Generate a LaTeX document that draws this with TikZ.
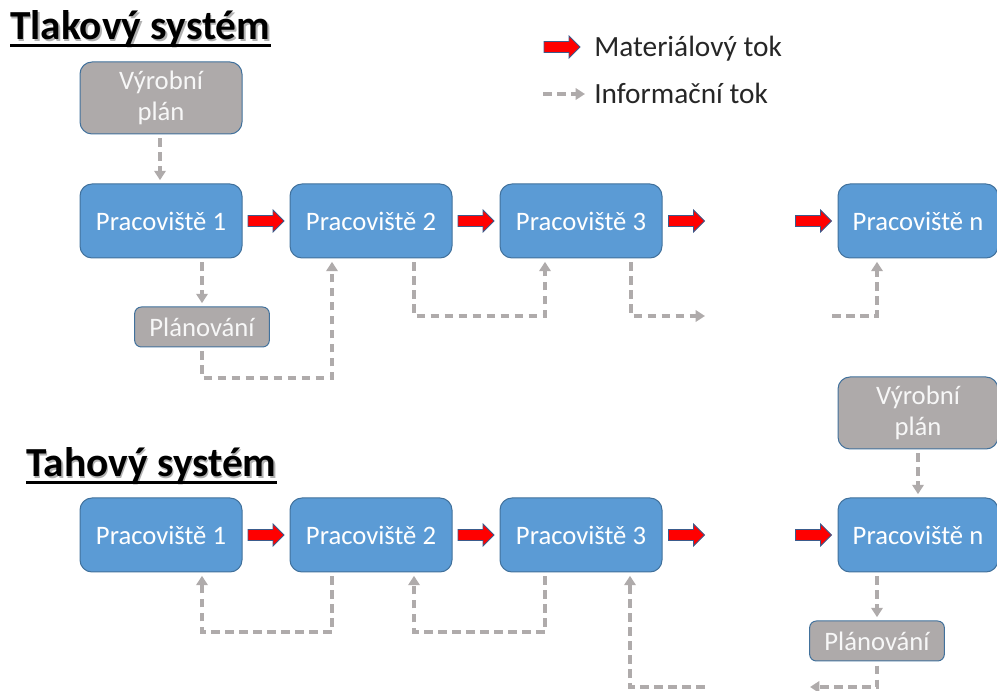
\documentclass[tikz,border=0pt]{standalone}
\usepackage{fontspec}
\setmainfont{Carlito}
\usetikzlibrary{arrows.meta,calc}
\definecolor{boxblue}{HTML}{5B9BD5}
\definecolor{boxedge}{HTML}{41719C}
\definecolor{boxgray}{HTML}{AEAAAA}
\definecolor{infogray}{HTML}{AFABAB}
\definecolor{arredge}{HTML}{3B5B8C}
\begin{document}
\begin{tikzpicture}[x=0.75pt,y=-0.75pt,
 station/.style={draw=boxedge, line width=0.75pt, fill=boxblue, rounded corners=9pt,
   minimum width=121.5pt, minimum height=55.5pt, text=white,
   font=\fontsize{20}{24}\selectfont, inner sep=0pt},
 plan/.style={draw=boxedge, line width=0.75pt, fill=boxgray, rounded corners=9pt,
   minimum width=121.5pt, minimum height=54pt, text=white!94!gray,
   font=\fontsize{20}{23.5}\selectfont, align=center, inner sep=0pt},
 planning/.style={plan, minimum width=101pt, minimum height=30pt, rounded corners=5pt},
 title/.style={font=\fontsize{31}{36}\selectfont\bfseries, anchor=base west, inner sep=0pt},
 legend/.style={font=\fontsize{22}{26}\selectfont, anchor=base west, inner sep=0pt, text=black!85},
 info/.style={draw=infogray, line width=2.8pt, dash pattern=on 6.5pt off 4pt,
   -{Triangle[width=8.5pt,length=7pt]}},
 frombox/.style={shorten <=3pt},
 tobox/.style={shorten >=2.5pt},
 matarrow/.pic={\draw[arredge, line width=0.6pt, fill=red, line join=miter]
   (-18,-5.5) -- (7,-5.5) -- (7,-11) -- (18,0) -- (7,11) -- (7,5.5) -- (-18,5.5) -- cycle;}
]
\useasboundingbox (0,0) rectangle (997,691);

% titles
\node[title, text=black!30] at (11.5,41.5) {Tlakový systém};
\node[title] (t1) at (10,40) {Tlakový systém};
\draw[line width=2.25pt] ([yshift=-4pt]t1.base west) -- ([yshift=-4pt]t1.base east);
\node[title, text=black!30] at (27.5,478.5) {Tahový systém};
\node[title] (t2) at (26,477) {Tahový systém};
\draw[line width=2.25pt] ([yshift=-4pt]t2.base west) -- ([yshift=-4pt]t2.base east);

% legend
\pic at (562,47) {matarrow};
\node[legend] (lm) at (594,57) {Materiálový tok};
\coordinate (l1) at (543,94);
\coordinate (l2) at (585,94);
\draw[info] (l1) -- (l2);
\node[legend] (li) at (594,104) {Informační tok};

% ---------- push system ----------
\node[plan] (vp1) at (161,98) {Výrobní\\plán};
\node[station] (p1) at (161,221) {Pracoviště 1};
\node[station] (p2) at (371,221) {Pracoviště 2};
\node[station] (p3) at (581,221) {Pracoviště 3};
\node[station, minimum width=120pt] (pn) at (918,221) {Pracoviště n};
\node[planning] (pl1) at (202,327) {Plánování};

\pic at ($(p1.east)!0.5!(p2.west)$) {matarrow};
\pic at ($(p2.east)!0.5!(p3.west)$) {matarrow};
\pic at ([xshift=18pt]p3.east) {matarrow};
\pic at ([xshift=-18pt]pn.west) {matarrow};

\draw[info, frombox, tobox] (vp1.south -| 160,0) -- (p1.north -| 160,0);
\draw[info, frombox, tobox] (p1.south -| pl1.north) -- (pl1.north);
\coordinate (a1) at (332,378);
\draw[info, frombox, tobox] (pl1.south) |- (a1) -- (a1 |- p2.south);
\coordinate (a2) at (414,316);
\coordinate (b2) at (545,316);
\draw[info, frombox, tobox] (a2 |- p2.south) -- (a2) -- (b2) -- (b2 |- p3.south);
\coordinate (a3) at (631,316);
\coordinate (e3) at (705,316);
\draw[info, frombox] (a3 |- p3.south) -- (a3) -- (e3);
\coordinate (s4) at (832,316);
\coordinate (a4) at (877,316);
\draw[info, tobox] (s4) -- (a4) -- (a4 |- pn.south);

% ---------- pull system ----------
\node[plan, minimum width=120pt] (vp2) at (918,413) {Výrobní\\plán};
\node[station] (q1) at (161,535) {Pracoviště 1};
\node[station] (q2) at (371,535) {Pracoviště 2};
\node[station] (q3) at (581,535) {Pracoviště 3};
\node[station, minimum width=120pt] (qn) at (918,535) {Pracoviště n};
\node[planning] (pl2) at (877,641) {Plánování};

\pic at ($(q1.east)!0.5!(q2.west)$) {matarrow};
\pic at ($(q2.east)!0.5!(q3.west)$) {matarrow};
\pic at ([xshift=18pt]q3.east) {matarrow};
\pic at ([xshift=-18pt]qn.west) {matarrow};

\draw[info, frombox, tobox] (vp2.south) -- (qn.north);
\draw[info, frombox, tobox] (qn.south -| pl2.north) -- (pl2.north);
\coordinate (e5) at (810,687);
\draw[info, frombox] (pl2.south) |- (e5);
\coordinate (c1) at (332,632);
\coordinate (d1) at (202,632);
\draw[info, frombox, tobox] (c1 |- q2.south) -- (c1) -- (d1) -- (d1 |- q1.south);
\coordinate (c2) at (545,632);
\coordinate (d2) at (414,632);
\draw[info, frombox, tobox] (c2 |- q3.south) -- (c2) -- (d2) -- (d2 |- q2.south);
\coordinate (s6) at (705,687);
\coordinate (d3) at (630,687);
\draw[info, tobox] (s6) -- (d3) -- (d3 |- q3.south);
\end{tikzpicture}
\end{document}
